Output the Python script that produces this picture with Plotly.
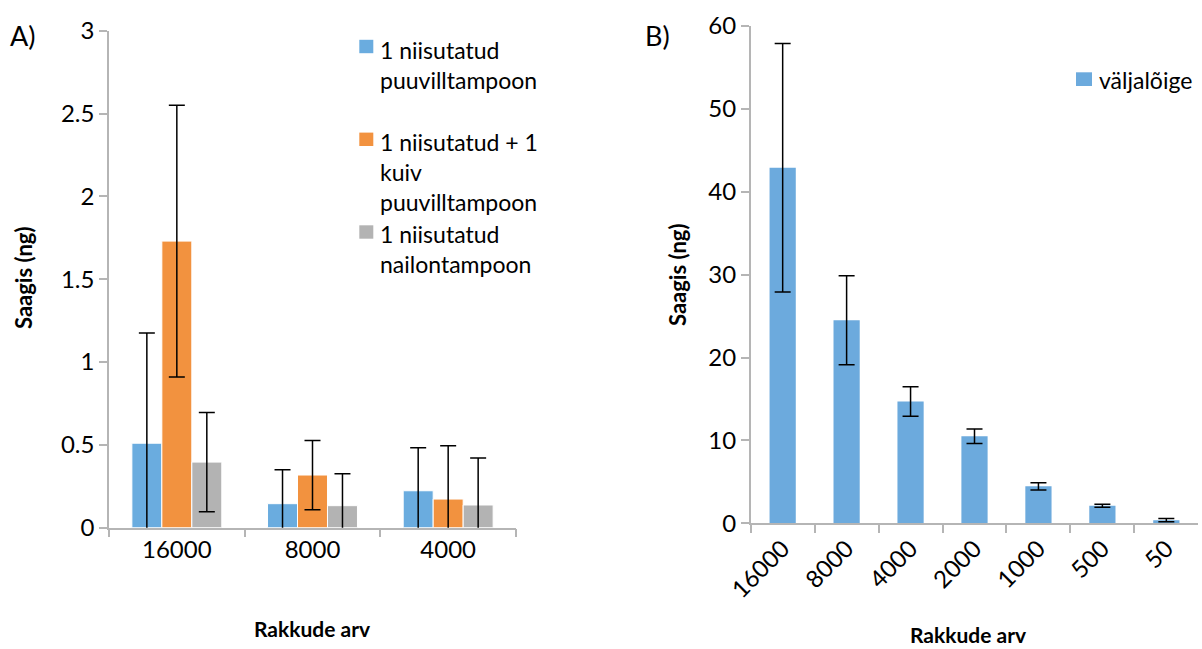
import plotly.graph_objects as go

W, H = 1202, 649

# Panel A data
cells_a = ["16000", "8000", "4000"]
series_a = [
    "1 niisutatud<br>puuvilltampoon",
    "1 niisutatud + 1<br>kuiv<br>puuvilltampoon",
    "1 niisutatud<br>nailontampoon",
]
wet_cotton = [0.51, 0.145, 0.223]
wet_cotton_err = [0.665, 0.205, 0.26]
wet_dry_cotton = [1.73, 0.318, 0.173]
wet_dry_cotton_err = [0.82, 0.209, 0.322]
wet_nylon = [0.396, 0.133, 0.137]
wet_nylon_err = [0.299, 0.193, 0.283]
colors_a = ["#6aacdf", "#f2923f", "#b3b3b3"]

# Panel B data
cells_b = ["16000", "8000", "4000", "2000", "1000", "500", "50"]
extract = [42.9, 24.5, 14.7, 10.5, 4.46, 2.12, 0.38]
extract_err = [15.0, 5.37, 1.79, 0.87, 0.44, 0.18, 0.2]
series_b = "väljalõige"
color_b = "#6caadd"

FONT = "Lato"
AXIS_COL = "#b5b5b5"


def px(x):
    return x / W


def py(y):
    return 1 - y / H


fig = go.Figure()

for vals, errs, name, col in zip(
    [wet_cotton, wet_dry_cotton, wet_nylon],
    [wet_cotton_err, wet_dry_cotton_err, wet_nylon_err],
    series_a,
    colors_a,
):
    fig.add_trace(go.Bar(
        x=cells_a, y=vals, name=name, xaxis="x", yaxis="y",
        marker=dict(color=col, line=dict(color="white", width=1)),
        error_y=dict(type="data", array=errs, visible=True,
                     color="black", thickness=1.5, width=8),
        showlegend=False,
    ))

fig.add_trace(go.Bar(
    x=cells_b, y=extract, name=series_b, xaxis="x2", yaxis="y2",
    marker=dict(color=color_b, line=dict(width=0)),
    error_y=dict(type="data", array=extract_err, visible=True,
                 color="black", thickness=1.5, width=8),
    width=0.41,
    showlegend=False,
))

axis_common = dict(
    showgrid=False, zeroline=False, showline=True, linecolor=AXIS_COL,
    linewidth=1.5, ticks="outside", tickcolor=AXIS_COL, ticklen=8,
    tickwidth=1.5, automargin=False,
    tickfont=dict(family=FONT, size=24, color="black"),
)

fig.update_layout(
    width=W, height=H,
    margin=dict(l=0, r=0, t=0, b=0, autoexpand=False),
    paper_bgcolor="white", plot_bgcolor="white",
    barmode="group", bargap=0.337, bargroupgap=0,
    xaxis=dict(domain=[px(109), px(516)], anchor="y", type="category",
               tickson="boundaries", **axis_common),
    yaxis=dict(domain=[py(527.7), py(30.7)], anchor="x", range=[0, 3],
               dtick=0.5, **axis_common),
    xaxis2=dict(domain=[px(750.7), px(1198.3)], anchor="y2", type="category",
                tickson="boundaries", tickangle=-45, **axis_common),
    yaxis2=dict(domain=[py(523.3), py(26)], anchor="x2", range=[0, 60],
                dtick=10, **axis_common),
    font=dict(family=FONT, color="black"),
)

annotations = []
shapes = []

# Panel labels
annotations.append(dict(text="A)", x=px(8), y=py(36), xref="paper", yref="paper",
                        xanchor="left", yanchor="middle", showarrow=False,
                        font=dict(family=FONT, size=27)))
annotations.append(dict(text="B)", x=px(643), y=py(36), xref="paper", yref="paper",
                        xanchor="left", yanchor="middle", showarrow=False,
                        font=dict(family=FONT, size=27)))

# Axis titles
for xc, yc in [(23, 278), (677, 275)]:
    annotations.append(dict(text="<b>Saagis (ng)</b>", x=px(xc), y=py(yc),
                            xref="paper", yref="paper", textangle=-90,
                            showarrow=False, xanchor="center", yanchor="middle",
                            font=dict(family=FONT, size=22)))
for xc, yc in [(312, 628), (968, 634)]:
    annotations.append(dict(text="<b>Rakkude arv</b>", x=px(xc), y=py(yc),
                            xref="paper", yref="paper", showarrow=False,
                            xanchor="center", yanchor="middle",
                            font=dict(family=FONT, size=21)))

# Legend for panel A
legend_a = [
    (series_a[0], colors_a[0], 46.5, 64.5),
    (series_a[1], colors_a[1], 139.3, 172),
    (series_a[2], colors_a[2], 232, 248.7),
]
for text, col, sq_c, txt_c in legend_a:
    shapes.append(dict(type="rect", xref="paper", yref="paper",
                       x0=px(359.3), x1=px(373.3), y0=py(sq_c - 6.7), y1=py(sq_c + 6.7),
                       fillcolor=col, line=dict(width=0)))
    annotations.append(dict(text=text, x=px(378), y=py(txt_c), xref="paper",
                            yref="paper", showarrow=False, xanchor="left",
                            yanchor="middle", align="left",
                            font=dict(family=FONT, size=23)))

# Legend for panel B
shapes.append(dict(type="rect", xref="paper", yref="paper",
                   x0=px(1076), x1=px(1092), y0=py(86), y1=py(72.3),
                   fillcolor=color_b, line=dict(width=0)))
annotations.append(dict(text=series_b, x=px(1097), y=py(80), xref="paper",
                        yref="paper", showarrow=False, xanchor="left",
                        yanchor="middle", font=dict(family=FONT, size=23)))

fig.update_layout(annotations=annotations, shapes=shapes)

fig.write_html("out.html")
